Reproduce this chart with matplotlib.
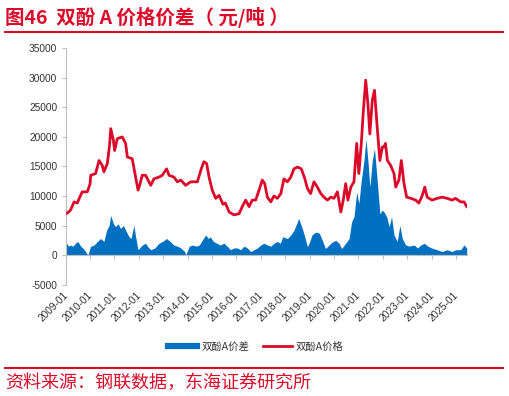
import matplotlib
matplotlib.use("Agg")
import matplotlib.pyplot as plt
from matplotlib.lines import Line2D

# ---- data (fractional years) ----
price_t = [2009.00, 2009.07, 2009.20, 2009.35, 2009.48, 2009.58, 2009.68, 2009.89, 2010.00, 2010.03,
           2010.23, 2010.37, 2010.50, 2010.57, 2010.71, 2010.80, 2010.85, 2010.96, 2011.01, 2011.12,
           2011.32, 2011.46, 2011.53, 2011.73, 2011.87, 2011.97, 2012.05, 2012.14, 2012.28, 2012.49,
           2012.62, 2012.83, 2012.96, 2013.14, 2013.24, 2013.44, 2013.58, 2013.72, 2013.92, 2014.13,
           2014.40, 2014.56, 2014.67, 2014.78, 2014.88, 2015.01, 2015.15, 2015.29, 2015.45, 2015.55,
           2015.70, 2015.90, 2016.11, 2016.24, 2016.38, 2016.52, 2016.65, 2016.79, 2016.93, 2017.06,
           2017.16, 2017.27, 2017.41, 2017.54, 2017.68, 2017.82, 2017.95, 2018.09, 2018.23, 2018.36,
           2018.50, 2018.66, 2018.80, 2018.91, 2019.04, 2019.18, 2019.32, 2019.46, 2019.59, 2019.73,
           2019.87, 2020.00, 2020.14, 2020.28, 2020.38, 2020.48, 2020.57, 2020.69, 2020.82, 2020.93,
           2021.02, 2021.12, 2021.20, 2021.30, 2021.39, 2021.47, 2021.57, 2021.66, 2021.77, 2021.88,
           2021.98, 2022.05, 2022.11, 2022.19, 2022.32, 2022.46, 2022.53, 2022.66, 2022.76, 2022.87,
           2022.98, 2023.15, 2023.35, 2023.48, 2023.62, 2023.72, 2023.82, 2024.02, 2024.23, 2024.43,
           2024.64, 2024.84, 2024.98, 2025.19, 2025.33, 2025.44]
price = [7000, 7100, 7600, 9000, 8800, 9800, 10700, 10700, 12000, 13500,
         13800, 16000, 15200, 14100, 15500, 18500, 21400, 19400, 17700, 19700,
         20000, 18900, 16600, 16300, 13200, 11000, 12000, 13500, 13500, 11800,
         12900, 13200, 13500, 14600, 13500, 13200, 12400, 12700, 11800, 12400,
         12400, 14600, 15800, 15500, 13200, 11000, 9600, 10100, 8600, 8800,
         7300, 6800, 7000, 8200, 9300, 8200, 9300, 9300, 11000, 12700,
         12100, 9800, 9000, 10000, 9600, 10400, 12900, 12400, 13200, 14600,
         14900, 14600, 13000, 11300, 10400, 12400, 11500, 10400, 9800, 9300,
         9800, 9600, 10700, 7300, 9300, 12100, 9300, 11500, 12400, 18900,
         13800, 18900, 24200, 29600, 25600, 20500, 26200, 27900, 21700, 16000,
         18300, 18300, 18900, 16000, 15200, 13800, 11500, 12700, 16000, 12100,
         9800, 9600, 9300, 8800, 10100, 11500, 9800, 9300, 9600, 9800,
         9600, 9300, 9600, 9000, 9000, 8200]

spread_t = [2009.00, 2009.04, 2009.12, 2009.20, 2009.30, 2009.40, 2009.50, 2009.62, 2009.75, 2009.86,
            2009.92, 2010.00, 2010.03, 2010.17, 2010.30, 2010.44, 2010.57, 2010.68, 2010.78, 2010.85,
            2010.96, 2011.05, 2011.15, 2011.25, 2011.37, 2011.46, 2011.60, 2011.68, 2011.80, 2011.87,
            2011.97, 2012.14, 2012.28, 2012.35, 2012.49, 2012.66, 2012.83, 2012.97, 2013.14, 2013.28,
            2013.44, 2013.58, 2013.72, 2013.88, 2013.92, 2014.07, 2014.20, 2014.35, 2014.48, 2014.60,
            2014.74, 2014.85, 2014.92, 2015.06, 2015.20, 2015.33, 2015.49, 2015.62, 2015.76, 2015.90,
            2016.04, 2016.17, 2016.31, 2016.45, 2016.58, 2016.72, 2016.86, 2017.00, 2017.13, 2017.27,
            2017.41, 2017.54, 2017.68, 2017.80, 2017.90, 2018.09, 2018.23, 2018.36, 2018.47, 2018.55,
            2018.66, 2018.76, 2018.84, 2018.91, 2018.98, 2019.10, 2019.25, 2019.40, 2019.55, 2019.65,
            2019.80, 2019.93, 2020.07, 2020.21, 2020.31, 2020.48, 2020.62, 2020.72, 2020.82, 2020.93,
            2021.02, 2021.12, 2021.23, 2021.31, 2021.39, 2021.47, 2021.57, 2021.66, 2021.77, 2021.88,
            2021.98, 2022.05, 2022.16, 2022.26, 2022.36, 2022.46, 2022.59, 2022.70, 2022.80, 2022.94,
            2023.08, 2023.29, 2023.42, 2023.56, 2023.70, 2023.85, 2024.00, 2024.23, 2024.43, 2024.64,
            2024.84, 2024.98, 2025.19, 2025.33, 2025.44]
spread = [1000, 2000, 1500, 1700, 1500, 2000, 2300, 1500, 1000, 300,
          0, 1200, 1500, 1700, 2300, 2800, 2300, 4200, 5000, 6700,
          5300, 4800, 5300, 4500, 5000, 4200, 3100, 2800, 5000, 3100,
          900, 1700, 2000, 1500, 900, 1200, 2000, 2300, 2800, 2300,
          1700, 1500, 1200, 600, 0, 1500, 1700, 1500, 1700, 2500,
          3400, 2800, 3100, 2300, 2000, 1700, 2000, 1500, 900, 1200,
          1200, 900, 1500, 1200, 600, 900, 1200, 1700, 2000, 1700,
          1500, 2000, 2300, 2000, 3100, 2800, 3400, 4200, 5300, 6200,
          5000, 3700, 2500, 1400, 2000, 3400, 3900, 3700, 2200, 1100,
          1700, 2200, 2500, 2000, 1100, 2000, 2800, 5600, 6500, 10700,
          8700, 12700, 16000, 19700, 16000, 11500, 16000, 18000, 12700, 7000,
          7600, 7300, 6500, 4800, 6500, 3400, 2300, 5000, 2800, 1700,
          1500, 1700, 1200, 1700, 2000, 1500, 1200, 900, 600, 900,
          600, 900, 900, 1700, 1200]

years = list(range(2009, 2026))
year_labels = [f"{y}-01" for y in years]
y_ticks = [-5000, 0, 5000, 10000, 15000, 20000, 25000, 30000, 35000]

title = "图46  双酚 A 价格价差（ 元/吨 ）"
source = "资料来源：钢联数据，东海证券研究所"
name_spread = "双酚A价差"
name_price = "双酚A价格"

RED = "#DC0A2A"
BLUE = "#0070C0"
CJK = ["Noto Sans CJK SC", "DejaVu Sans"]
NUM = ["Liberation Sans", "DejaVu Sans"]

W, H = 509, 396
fig = plt.figure(figsize=(W / 100, H / 100), dpi=100)

x0, x1 = 65.6, 467.2
ytop, ybot = 48.3, 284.6
ax = fig.add_axes([x0 / W, 1 - ybot / H, (x1 - x0) / W, (ybot - ytop) / H])

ax.fill_between(spread_t, spread, 0, color=BLUE, linewidth=0, zorder=2)
ax.plot(price_t, price, color=RED, linewidth=2.0, zorder=3, solid_joinstyle="round")

ax.set_xlim(2009.0, 2025.46)
ax.set_ylim(-5000, 35000)

ax.set_yticks(y_ticks)
ax.set_yticklabels([str(v) for v in y_ticks], family=NUM, fontsize=7.3, color="#333333")
ax.tick_params(axis="y", direction="out", length=3, width=0.8, color="#BFBFBF", pad=3)

ax.spines["top"].set_visible(False)
ax.spines["right"].set_visible(False)
ax.spines["left"].set_color("#BFBFBF")
ax.spines["left"].set_linewidth(0.8)
ax.spines["bottom"].set_position(("data", 0))
ax.spines["bottom"].set_color("#BFBFBF")
ax.spines["bottom"].set_linewidth(0.8)

ax.set_xticks(years)
ax.tick_params(axis="x", direction="out", length=3, width=0.8, color="#BFBFBF", labelbottom=False)

for yr, lab in zip(years, year_labels):
    ax.annotate(lab, xy=(yr, -5000), xycoords="data", xytext=(3, -4), textcoords="offset points",
                rotation=45, ha="right", va="top", fontsize=7.3, family=NUM, color="#333333")

# legend
handles = [Line2D([], [], color=BLUE, linewidth=4.5), Line2D([], [], color=RED, linewidth=2)]
fig.legend(handles, [name_spread, name_price], loc="center", bbox_to_anchor=(256 / W, 1 - 347 / H),
           ncol=2, frameon=False, prop={"family": CJK, "size": 7.5}, handlelength=2.8,
           handletextpad=0.4, columnspacing=1.3, labelcolor="#333333")

# title and lines
fig.text(5 / W, 1 - 17 / H, title, fontsize=14, fontweight="bold", color=RED, family=CJK,
         ha="left", va="center")
fig.add_artist(Line2D([5 / W, 503 / W], [1 - 32.3 / H] * 2, color=RED, linewidth=1.5))
fig.add_artist(Line2D([5 / W, 503 / W], [1 - 367.7 / H] * 2, color=RED, linewidth=1.5))
fig.text(5 / W, 1 - 382.5 / H, source, fontsize=13, color=RED, family=CJK, ha="left", va="center")

fig.savefig("out.png", dpi=100)
